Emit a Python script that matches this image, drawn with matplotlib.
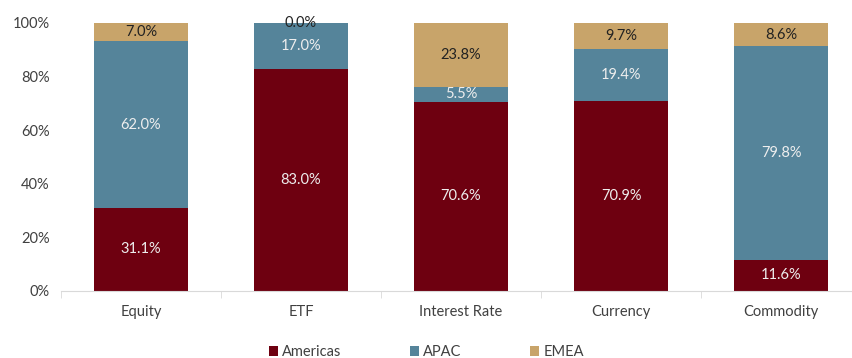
import matplotlib
matplotlib.use("Agg")
import matplotlib.pyplot as plt
import numpy as np

# share of volume by region for each asset class (%)
categories = ["Equity", "ETF", "Interest Rate", "Currency", "Commodity"]
americas = [31.1, 83.0, 70.6, 70.9, 11.6]
apac = [62.0, 17.0, 5.5, 19.4, 79.8]
emea = [7.0, 0.0, 23.8, 9.7, 8.6]
regions = ["Americas", "APAC", "EMEA"]

colors = ["#6E0010", "#55849A", "#C8A46A"]
label_colors = ["#EEEEEE", "#EEEEEE", "#222222"]

plt.rcParams["font.family"] = ["Lato", "DejaVu Sans"]

fig = plt.figure(figsize=(8.53, 3.58), dpi=100)
ax = fig.add_axes([61 / 853, 67 / 358, 800 / 853, 268 / 358])

x = np.arange(len(categories))
bottom = np.zeros(len(categories))
for name, vals, col, tcol in zip(regions, [americas, apac, emea], colors, label_colors):
    vals = np.array(vals)
    ax.bar(x, vals, 0.59, bottom=bottom, color=col, label=name, zorder=2)
    for xi, b, v in zip(x, bottom, vals):
        ax.text(xi, b + v / 2, f"{v:.1f}%", ha="center", va="center",
                color=tcol, fontsize=10.5)
    bottom += vals

ax.set_xlim(-0.5, len(categories) - 0.5)
ax.set_ylim(0, 100)
ax.set_yticks([0, 20, 40, 60, 80, 100])
ax.set_yticklabels([f"{t}%" for t in [0, 20, 40, 60, 80, 100]])
ax.set_xticks(x)
ax.set_xticklabels(categories)
ax.set_xticks(np.arange(-0.5, len(categories)), minor=True)

for s in ["top", "right", "left"]:
    ax.spines[s].set_visible(False)
ax.spines["bottom"].set_color("#D9D9D9")
ax.tick_params(axis="y", length=0, labelsize=10.5, labelcolor="#404040", pad=8)
ax.tick_params(axis="x", which="major", length=0, labelsize=10.5, labelcolor="#404040", pad=10)
ax.tick_params(axis="x", which="minor", length=5, color="#D9D9D9")

fig.legend(loc="lower center", bbox_to_anchor=(0.5, -0.04), ncol=3, frameon=False,
           fontsize=10.5, handlelength=0.6, handleheight=0.6, handletextpad=0.3,
           columnspacing=4.7, labelcolor="#404040")

fig.savefig("out.png", dpi=100)
